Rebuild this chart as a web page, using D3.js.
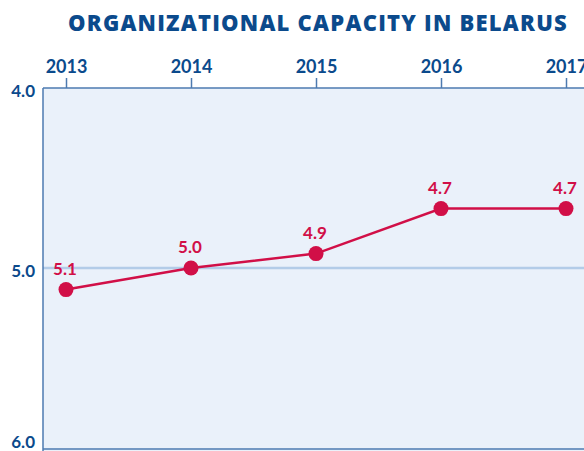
<!DOCTYPE html>
<html>
<head>
<meta charset="utf-8">
<script src="https://cdn.jsdelivr.net/npm/d3@7"></script>
<style>
  html, body { margin: 0; padding: 0; background: #ffffff; }
  svg { display: block; }
</style>
</head>
<body>
<div id="chart"></div>
<script>
const title = "ORGANIZATIONAL CAPACITY IN BELARUS";
const years = ["2013", "2014", "2015", "2016", "2017"];
const values = [5.12, 5.0, 4.92, 4.67, 4.67];
const valueLabels = ["5.1", "5.0", "4.9", "4.7", "4.7"];
const yTicks = [4.0, 5.0, 6.0];

const W = 584, H = 451;
const navy = "#0b4a8c";
const crimson = "#d10f47";
const plotLeft = 43, plotTop = 88, plotBottom = 448;
const labelFont = "Lato, 'Open Sans', sans-serif";

const svg = d3.select("#chart").append("svg")
  .attr("width", W).attr("height", H);

const x = d3.scalePoint().domain(years).range([66, 566]);
const y = d3.scaleLinear().domain([4, 6]).range([plotTop, plotBottom]);

// plot background
svg.append("rect")
  .attr("x", plotLeft).attr("y", plotTop)
  .attr("width", W - plotLeft + 2).attr("height", H - plotTop + 2)
  .attr("fill", "#eaf1fa");

// gridline at 5.0
svg.append("line")
  .attr("x1", plotLeft).attr("x2", W)
  .attr("y1", y(5)).attr("y2", y(5))
  .attr("stroke", "#b3cce8").attr("stroke-width", 2.5);

// borders
svg.append("line").attr("x1", plotLeft).attr("x2", plotLeft)
  .attr("y1", plotTop).attr("y2", H)
  .attr("stroke", "#4d7ab0").attr("stroke-width", 1.5);
svg.append("line").attr("x1", plotLeft).attr("x2", W)
  .attr("y1", plotBottom + 1).attr("y2", plotBottom + 1)
  .attr("stroke", "#4d7ab0").attr("stroke-width", 1.5);

// top axis
const xAxis = d3.axisTop(x).tickSize(10).tickPadding(5);
const gx = svg.append("g").attr("transform", `translate(0,${plotTop})`).call(xAxis);
gx.select(".domain").attr("d", `M${plotLeft},0H${W + 2}`)
  .attr("stroke", "#4d7ab0").attr("stroke-width", 1.5);
gx.selectAll(".tick line").attr("stroke", "#4d7ab0").attr("stroke-width", 1.5);
gx.selectAll(".tick text")
  .attr("fill", navy)
  .style("font-family", labelFont)
  .style("font-weight", "700")
  .style("font-size", "18px");

// left labels
svg.selectAll("text.ylab").data(yTicks).enter().append("text")
  .attr("class", "ylab")
  .attr("x", 35)
  .attr("y", d => d === 6 ? 442 : y(d) + 3)
  .attr("dy", "0.35em")
  .attr("text-anchor", "end")
  .attr("fill", navy)
  .style("font-family", labelFont)
  .style("font-weight", "700")
  .style("font-size", "17px")
  .text(d => d.toFixed(1));

// title
const t = svg.append("text")
  .attr("x", 318).attr("y", 31)
  .attr("text-anchor", "middle")
  .attr("fill", navy)
  .attr("font-family", "'Open Sans', 'DejaVu Sans', sans-serif")
  .attr("font-weight", "800")
  .attr("font-size", "22px")
  .text(title);
const targetW = 500;
const curW = t.node().getComputedTextLength();
t.style("letter-spacing", ((targetW - curW) / title.length) + "px");

// line
const data = years.map((yr, i) => ({ yr, v: values[i], lab: valueLabels[i] }));
svg.append("path").datum(data)
  .attr("fill", "none")
  .attr("stroke", crimson)
  .attr("stroke-width", 2.5)
  .attr("d", d3.line().x(d => x(d.yr)).y(d => y(d.v)));

svg.selectAll("circle.pt").data(data).enter().append("circle")
  .attr("class", "pt")
  .attr("cx", d => x(d.yr)).attr("cy", d => y(d.v))
  .attr("r", 7.5).attr("fill", crimson);

svg.selectAll("text.vlab").data(data).enter().append("text")
  .attr("class", "vlab")
  .attr("x", d => x(d.yr) - 1).attr("y", d => y(d.v) - 15)
  .attr("text-anchor", "middle")
  .attr("fill", crimson)
  .style("font-family", labelFont)
  .style("font-weight", "700")
  .style("font-size", "17px")
  .text(d => d.lab);
</script>
</body>
</html>
